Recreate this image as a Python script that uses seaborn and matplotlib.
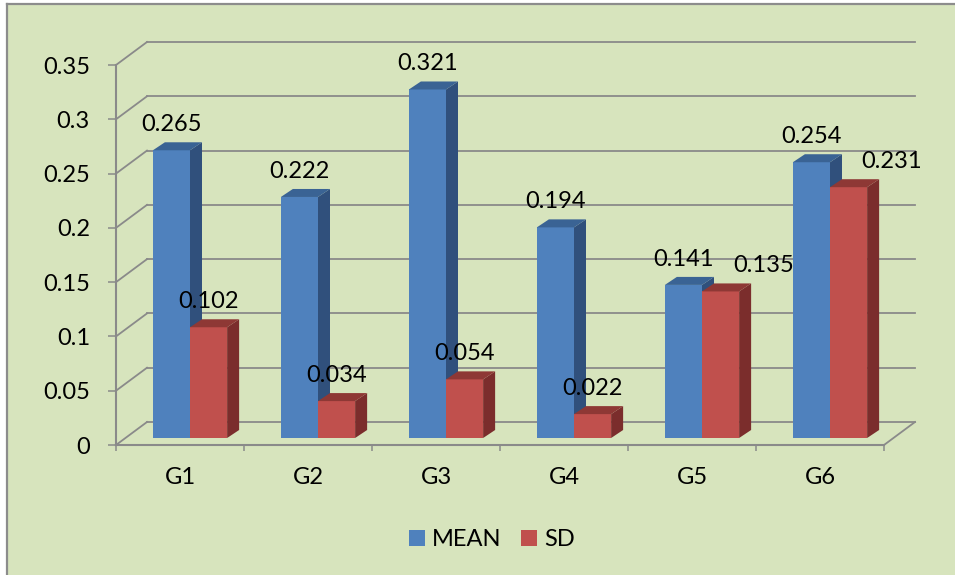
import numpy as np
import pandas as pd
import matplotlib
matplotlib.use("Agg")
import matplotlib.pyplot as plt
import seaborn as sns
from matplotlib.transforms import offset_copy
from matplotlib.patches import Polygon, Rectangle
from matplotlib.lines import Line2D

# ---- data ----
groups = ["G1", "G2", "G3", "G4", "G5", "G6"]
series = ["MEAN", "SD"]
mean_values = [0.265, 0.222, 0.321, 0.194, 0.141, 0.254]
sd_values = [0.102, 0.034, 0.054, 0.022, 0.135, 0.231]
y_ticks = [0, 0.05, 0.1, 0.15, 0.2, 0.25, 0.3, 0.35]
y_tick_labels = ["0", "0.05", "0.1", "0.15", "0.2", "0.25", "0.3", "0.35"]

# ---- style ----
plt.rcParams["font.family"] = ["Lato", "DejaVu Sans"]
FS = 17
BG = "#D7E4BD"
GRID = "#8A8A8A"
FRONT = {"MEAN": "#4F81BD", "SD": "#C0504D"}
SIDE = {"MEAN": "#30507C", "SD": "#7B2D2C"}
TOP = {"MEAN": "#3A6394", "SD": "#8E3835"}

W, H = 955, 575
fig = plt.figure(figsize=(W / 100, H / 100), dpi=100, facecolor="white")

# chart area background and its frame
fig.patches.append(Rectangle((7 / W, 0), 1, 1 - 4 / H, transform=fig.transFigure,
                             facecolor=BG, edgecolor="none", zorder=-10))
fig.add_artist(Line2D([7 / W, 7 / W], [0, 1 - 4 / H], transform=fig.transFigure,
                      color="#8C8C8C", lw=1.6))
fig.add_artist(Line2D([7 / W, 1], [1 - 4 / H, 1 - 4 / H], transform=fig.transFigure,
                      color="#8C8C8C", lw=1.6))

ax = fig.add_axes([116 / W, (H - 445) / H, 768 / W, 380 / H])
ax.set_facecolor("none")

df = pd.DataFrame({
    "group": groups * 2,
    "stat": ["MEAN"] * len(groups) + ["SD"] * len(groups),
    "value": mean_values + sd_values,
})
sns.barplot(data=df, x="group", y="value", hue="stat", palette=FRONT,
            width=0.58, saturation=1, linewidth=0, ax=ax, legend=False)

ax.set_xlim(-0.5, len(groups) - 0.5)
ax.set_ylim(0, 0.35)
ax.set_xlabel("")
ax.set_ylabel("")

# pixel size of one data unit
o = ax.transData.transform((0, 0))
px_x = ax.transData.transform((1, 0))[0] - o[0]
px_y = ax.transData.transform((0, 1))[1] - o[1]

# bars stand a little behind the front axis plane
tr_bar = offset_copy(ax.transData, fig=fig, x=10, y=7, units="dots")
tr_lab = offset_copy(ax.transData, fig=fig, x=10, y=7 + 19, units="dots")
tr_lab_shift = offset_copy(ax.transData, fig=fig, x=10 + 43, y=7 + 19, units="dots")
tr_wall = offset_copy(ax.transData, fig=fig, x=31, y=23, units="dots")
ddx, ddy = 12 / px_x, 8 / px_y

mean_heights = [b.get_height() for b in ax.containers[0]]
for k, (name, cont) in enumerate(zip(series, ax.containers)):
    for i, bar in enumerate(cont):
        x0 = bar.get_x()
        x1 = x0 + bar.get_width()
        h = bar.get_height()
        bar.set_transform(tr_bar)
        bar.set_zorder(3 + k)
        side = Polygon([(x1, 0), (x1 + ddx, ddy), (x1 + ddx, h + ddy), (x1, h)],
                       closed=True, facecolor=SIDE[name], edgecolor="none",
                       transform=tr_bar, zorder=3 + k)
        top = Polygon([(x0, h), (x0 + ddx, h + ddy), (x1 + ddx, h + ddy), (x1, h)],
                      closed=True, facecolor=TOP[name], edgecolor="none",
                      transform=tr_bar, zorder=3 + k)
        ax.add_patch(side)
        ax.add_patch(top)
        # second-series label moves right when it would collide with the first
        crowded = k == 1 and abs(mean_heights[i] - h) < 0.03
        ax.text((x0 + x1) / 2, h, f"{h:.3f}",
                transform=tr_lab_shift if crowded else tr_lab,
                ha="center", va="baseline", fontsize=FS, color="black", zorder=10)

# back wall gridlines and side wall diagonals
wx, wy = 31 / px_x, 23 / px_y
xl, xr = ax.get_xlim()
for v in y_ticks:
    ax.plot([xl, xr], [v, v], transform=tr_wall, color=GRID, lw=1.3,
            clip_on=False, zorder=1)
    ax.plot([xl, xl + wx], [v, v + wy], color=GRID, lw=1.3, clip_on=False, zorder=1)
ax.plot([xr, xr + wx], [0, wy], color=GRID, lw=1.3, clip_on=False, zorder=1)

# front axes
for s in ["top", "right"]:
    ax.spines[s].set_visible(False)
for s in ["left", "bottom"]:
    ax.spines[s].set_color(GRID)
    ax.spines[s].set_linewidth(1.5)
    ax.spines[s].set_zorder(2)

ax.set_yticks(y_ticks, y_tick_labels)
ax.tick_params(axis="y", length=5.8, width=1.1, color=GRID, pad=13,
               labelsize=FS, labelcolor="black")
ax.set_xticks(range(len(groups)), groups)
ax.set_xticks(np.arange(-0.5, len(groups), 1), minor=True)
ax.tick_params(axis="x", which="major", length=0, pad=16, labelsize=FS,
               labelcolor="black")
ax.tick_params(axis="x", which="minor", length=4.5, width=1.1, color=GRID)
ax.tick_params(axis="y", which="minor", length=0)

handles = [Rectangle((0, 0), 1, 1, facecolor=FRONT[s], edgecolor="none") for s in series]
fig.legend(handles, series, loc="center", bbox_to_anchor=(492 / W, 1 - 540 / H),
           ncol=2, frameon=False, handlelength=0.65, handleheight=0.65,
           handletextpad=0.3, columnspacing=0.85, fontsize=FS)

fig.savefig("out.png", dpi=100, facecolor=fig.get_facecolor())
